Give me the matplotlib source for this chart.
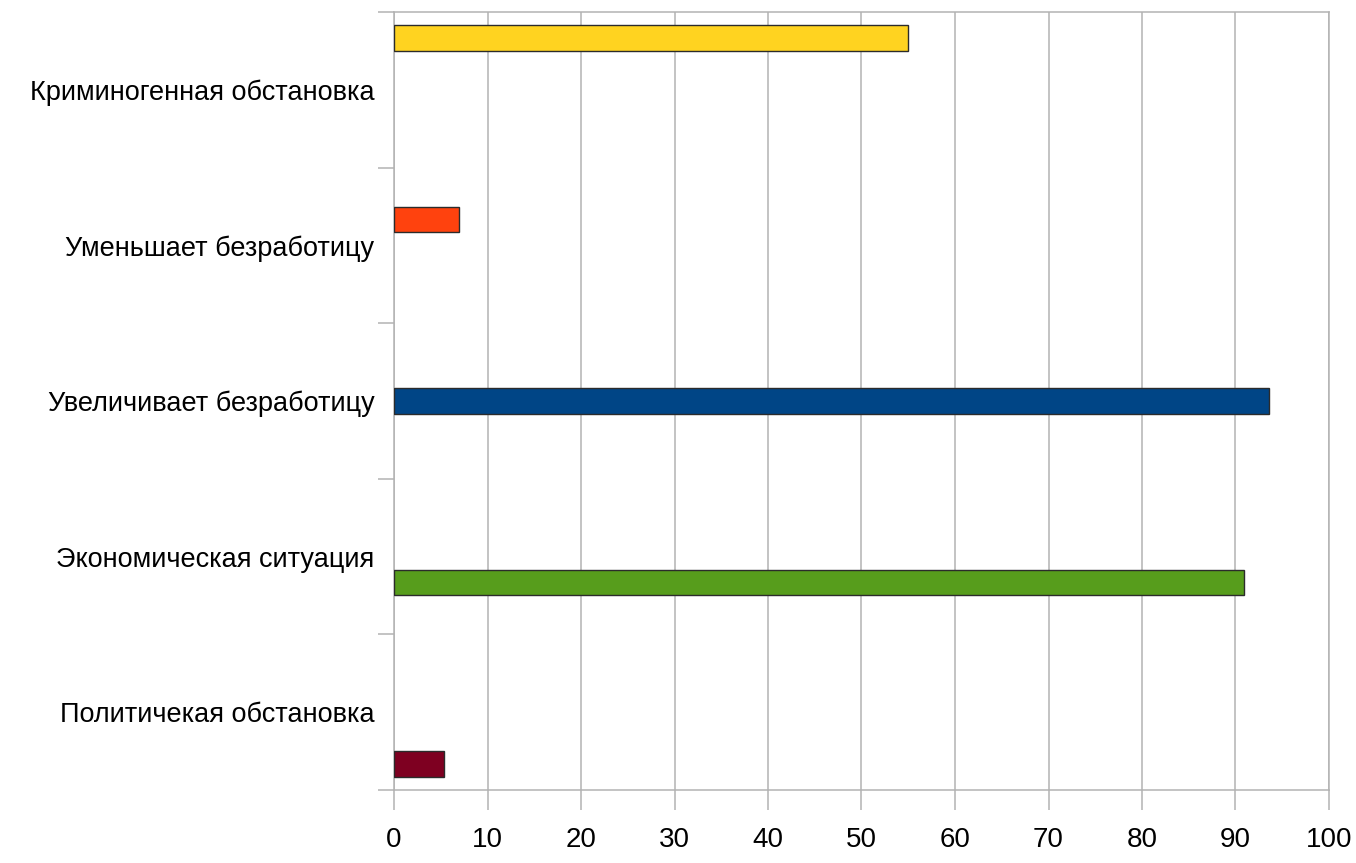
import numpy as np
import matplotlib.pyplot as plt

# Категории (снизу вверх) и значения
categories = ['Политичекая обстановка', 'Экономическая ситуация',
              'Увеличивает безработицу', 'Уменьшает безработицу',
              'Криминогенная обстановка']
# каждая серия имеет значение только в своей категории
series_values = [
    [5.3, 0, 0, 0, 0],
    [0, 90.9, 0, 0, 0],
    [0, 0, 93.6, 0, 0],
    [0, 0, 0, 7.0, 0],
    [0, 0, 0, 0, 55.0],
]
series_colors = ['#7e0021', '#579d1c', '#004586', '#ff420e', '#ffd320']
x_ticks = np.arange(0, 101, 10)

fig = plt.figure(figsize=(13.56, 8.63), dpi=100)
ax = fig.add_axes([394 / 1356, 1 - 790 / 863, 935 / 1356, 778 / 863])

y = np.arange(len(categories))
h = 0.166
n = len(series_values)
for k, (vals, col) in enumerate(zip(series_values, series_colors)):
    vals = np.array(vals)
    mask = vals > 0
    ax.barh(y[mask] + (k - (n - 1) / 2) * h, vals[mask], height=h,
            color=col, edgecolor='#2b2b2b', linewidth=1.0, zorder=3)

grid_col = '#b3b3b3'
ax.set_xlim(0, 100)
ax.set_ylim(-0.5, len(categories) - 0.5)
ax.set_xticks(x_ticks)
ax.set_xticklabels([str(v) for v in x_ticks], family='Liberation Sans',
                   fontsize=20)
ax.tick_params(axis='x', length=14.4, width=1.1, color=grid_col, pad=12)
ax.xaxis.grid(True, color=grid_col, linewidth=1.1, zorder=0)

ax.set_yticks(y)
ax.set_yticklabels(categories, family='Liberation Sans', fontsize=19.5)
ax.tick_params(axis='y', which='major', length=0, pad=14)
ax.set_yticks(np.arange(-0.5, len(categories), 1), minor=True)
ax.tick_params(axis='y', which='minor', length=11.5, width=1.1, color=grid_col)

for s in ax.spines.values():
    s.set_color(grid_col)
    s.set_linewidth(1.1)

fig.savefig('out.png', dpi=100, facecolor='white')
